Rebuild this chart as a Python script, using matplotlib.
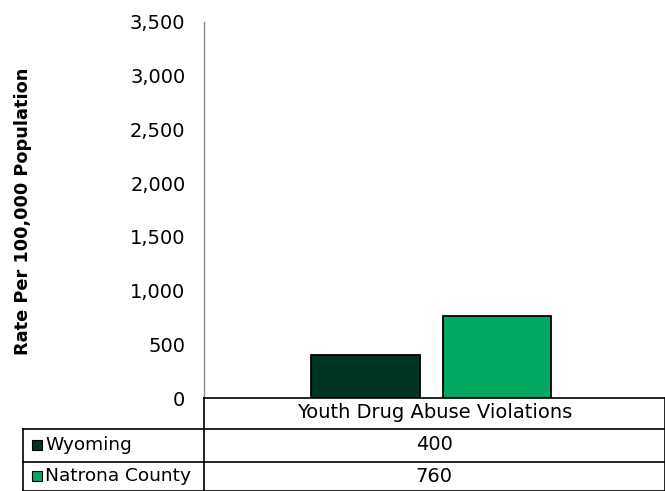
import matplotlib.pyplot as plt
from matplotlib.lines import Line2D
from matplotlib.patches import Rectangle

plt.rcParams['font.family'] = ['DejaVu Sans']

# Data
category = "Youth Drug Abuse Violations"
series_names = ["Wyoming", "Natrona County"]
series_values = [400, 760]
series_colors = ["#003526", "#00A862"]
y_ticks = [0, 500, 1000, 1500, 2000, 2500, 3000, 3500]

W, H = 665, 491
fig = plt.figure(figsize=(W / 100, H / 100), dpi=100)

def fx(px):
    return px / W

def fy(py):
    return 1 - py / H

# plot area in pixel coords
left, right, top, bottom = 203.5, 665, 22, 398
ax = fig.add_axes([fx(left), fy(bottom), fx(right - left), fy(top) - fy(bottom)])

bar_w = 0.235
offsets = [-0.149, 0.136]
for name, val, col, off in zip(series_names, series_values, series_colors, offsets):
    ax.bar(off, val, width=bar_w, color=col, edgecolor="black", linewidth=1.3)

ax.set_xlim(-0.5, 0.5)
ax.set_ylim(0, 3500)
ax.set_yticks(y_ticks)
ax.set_yticklabels([f"{v:,}" for v in y_ticks])
ax.tick_params(axis="y", length=0, pad=13, labelsize=14)
ax.set_xticks([])
for s in ["top", "right", "bottom"]:
    ax.spines[s].set_visible(False)
ax.spines["left"].set_color("#8c8c8c")
ax.spines["left"].set_linewidth(1)

fig.text(fx(23), fy((68 + 355) / 2), "Rate Per 100,000 Population", rotation=90,
         ha="center", va="center", fontsize=12.8, fontweight="bold")

# data table drawn by hand
def hline(x0, x1, y):
    fig.add_artist(Line2D([fx(x0), fx(x1)], [fy(y), fy(y)], color="black", lw=1.2))

def vline(x, y0, y1):
    fig.add_artist(Line2D([fx(x), fx(x)], [fy(y0), fy(y1)], color="black", lw=1.2))

hline(left, 665, bottom)
hline(23, 665, 429)
hline(23, 665, 462)
hline(23, 665, 490.5)
vline(left, bottom, 491)
vline(23, 429, 491)
vline(664.5, bottom, 491)

mid = (left + right) / 2
fig.text(fx(mid), fy(413), category, ha="center", va="center", fontsize=14)
row_y = [445, 476]
for name, val, col, ry in zip(series_names, series_values, series_colors, row_y):
    fig.add_artist(Rectangle((fx(32), fy(ry + 5)), fx(10), fy(ry - 5) - fy(ry + 5),
                             facecolor=col, edgecolor="black", lw=0.8))
    fig.text(fx(45), fy(ry), name, ha="left", va="center", fontsize=13.3)
    fig.text(fx(mid), fy(ry), f"{val:,}", ha="center", va="center", fontsize=14)

fig.savefig("out.png", dpi=100)
